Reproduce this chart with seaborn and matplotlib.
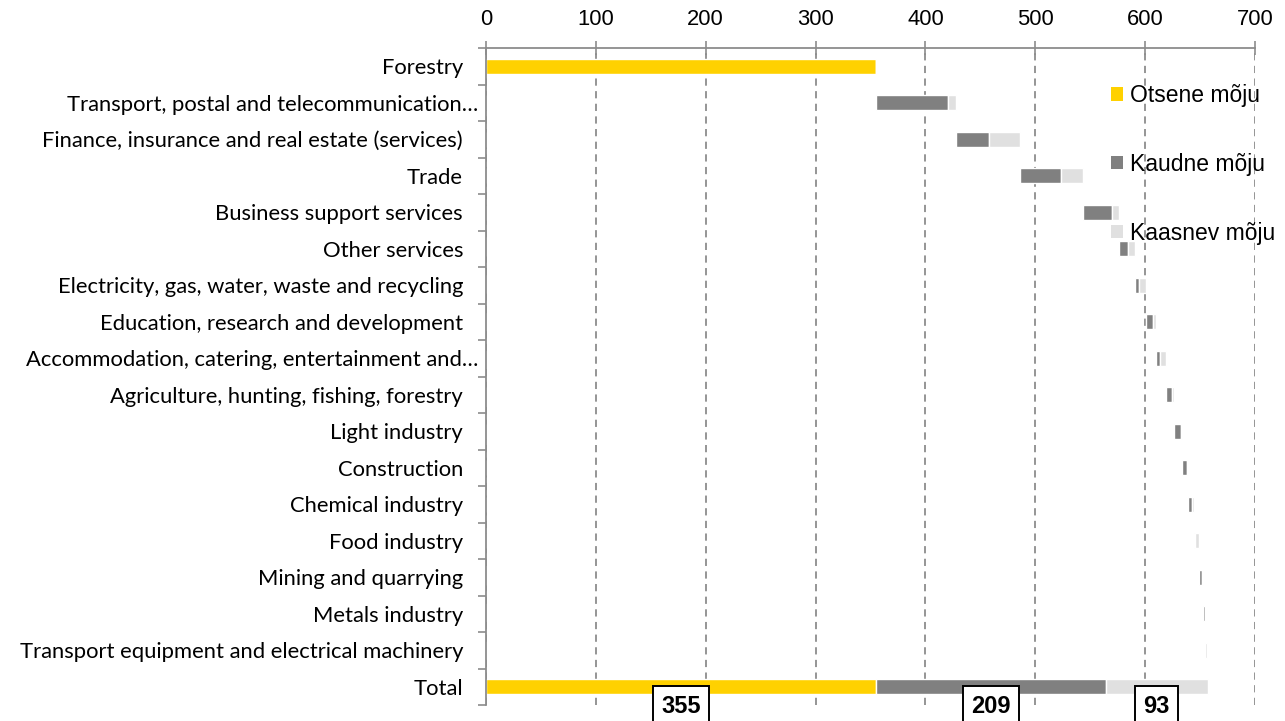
import numpy as np
import matplotlib
matplotlib.use("Agg")
import matplotlib.pyplot as plt
import matplotlib.transforms as mtransforms
from matplotlib.patches import Patch
from matplotlib.ticker import FixedLocator
import seaborn as sns

# --- data ---
sectors = [
    "Forestry",
    "Transport, postal and telecommunication…",
    "Finance, insurance and real estate (services)",
    "Trade",
    "Business support services",
    "Other services",
    "Electricity, gas, water, waste and recycling",
    "Education, research and development",
    "Accommodation, catering, entertainment and…",
    "Agriculture, hunting, fishing, forestry",
    "Light industry",
    "Construction",
    "Chemical industry",
    "Food industry",
    "Mining and quarrying",
    "Metals industry",
    "Transport equipment and electrical machinery",
]
direct = [355, 0, 0, 0, 0, 0, 0, 0, 0, 0, 0, 0, 0, 0, 0, 0, 0]
indirect = [0, 65.5, 29.7, 37.4, 26.4, 8.2, 4.0, 6.7, 3.4, 5.2, 5.5, 4.6, 3.9, 0.9, 3.0, 2.2, 0.2]
induced = [0, 7.3, 28.2, 19.9, 6.6, 6.2, 6.0, 2.7, 5.8, 2.5, 1.3, 0.9, 1.5, 3.7, 0.3, 0.2, 1.4]

total_label = "Total"
total_values = [355, 209, 93]  # direct, indirect, induced
series_names = ["Otsene mõju", "Kaudne mõju", "Kaasnev mõju"]
xticks = [0, 100, 200, 300, 400, 500, 600, 700]

yellow = "#FFD100"
dark = "#808080"
light = "#E0E0E0"
axis_grey = "#8C8C8C"

sns.set_theme(style="white")
plt.rcParams["font.family"] = ["Liberation Sans", "DejaVu Sans"]
plt.rcParams["text.color"] = "black"
plt.rcParams["xtick.labelcolor"] = "black"
plt.rcParams["ytick.labelcolor"] = "black"

fig = plt.figure(figsize=(12.85, 7.21), dpi=100)
ax = fig.add_axes([486 / 1285, 1 - 705 / 721, (1255 - 486) / 1285, (705 - 48) / 721])

labels = sectors + [total_label]
direct_all = np.array(direct + [total_values[0]], dtype=float)
indirect_all = np.array(indirect + [total_values[1]], dtype=float)
induced_all = np.array(induced + [total_values[2]], dtype=float)

# waterfall offsets: each sector starts where the previous one ended
row_sum = np.array(direct, float) + np.array(indirect, float) + np.array(induced, float)
starts = np.concatenate([[0], np.cumsum(row_sum)[:-1], [0]])

bar_h = 0.4
sns.barplot(x=direct_all, y=labels, color=yellow, width=bar_h, orient="h",
            saturation=1, errorbar=None, ax=ax)
pos = np.arange(len(labels))
ax.barh(pos, indirect_all, left=starts + direct_all, height=bar_h, color=dark)
ax.barh(pos, induced_all, left=starts + direct_all + indirect_all, height=bar_h, color=light)

# value labels under the total bar
tot_left = 0
for v in total_values:
    ax.text(tot_left + v / 2, len(labels) - 1 + 0.71, f"{v:g}", ha="center", va="baseline",
            fontsize=17, fontweight="bold", clip_on=False, zorder=5,
            bbox=dict(boxstyle="square,pad=0.36", fc="white", ec="black", lw=1.4))
    tot_left += v

ax.set_xlim(0, 700)
ax.set_ylim(len(labels) - 0.5, -0.5)
ax.set_xticks(xticks)
ax.xaxis.tick_top()
ax.tick_params(axis="x", which="major", direction="inout", length=9.5, width=1.2,
               color=axis_grey, labelsize=15.8, pad=8)
ax.tick_params(axis="y", which="major", length=0, pad=16.5)
shift = mtransforms.ScaledTranslation(15 / 100, 0, fig.dpi_scale_trans)
for t in ax.get_yticklabels():
    t.set_fontfamily(["Lato", "DejaVu Sans"])
    t.set_fontsize(15.8)
    # truncated labels run a little further right, as in the original
    if t.get_text().endswith("…"):
        t.set_transform(t.get_transform() + shift)
ax.yaxis.set_minor_locator(FixedLocator(np.arange(-0.5, len(labels), 1.0)))
ax.tick_params(axis="y", which="minor", left=True, direction="out", length=6,
               width=1.2, color=axis_grey)

ax.xaxis.grid(True, linestyle=(0, (4, 3)), color=axis_grey, lw=1.3)
ax.set_axisbelow(True)
for s in ["right", "bottom"]:
    ax.spines[s].set_visible(False)
for s in ["top", "left"]:
    ax.spines[s].set_color(axis_grey)
    ax.spines[s].set_linewidth(1.3)
ax.set_xlabel("")
ax.set_ylabel("")

handles = [Patch(facecolor=c, edgecolor="none", label=n)
           for c, n in zip([yellow, dark, light], series_names)]
fig.legend(handles=handles, loc="upper left", bbox_to_anchor=(1111 / 1285, 1 - 84 / 721),
           frameon=False, fontsize=16.5, handlelength=0.52, handleheight=0.52,
           handletextpad=0.3, labelspacing=2.0, borderpad=0, borderaxespad=0)

fig.savefig("out.png", dpi=100)
